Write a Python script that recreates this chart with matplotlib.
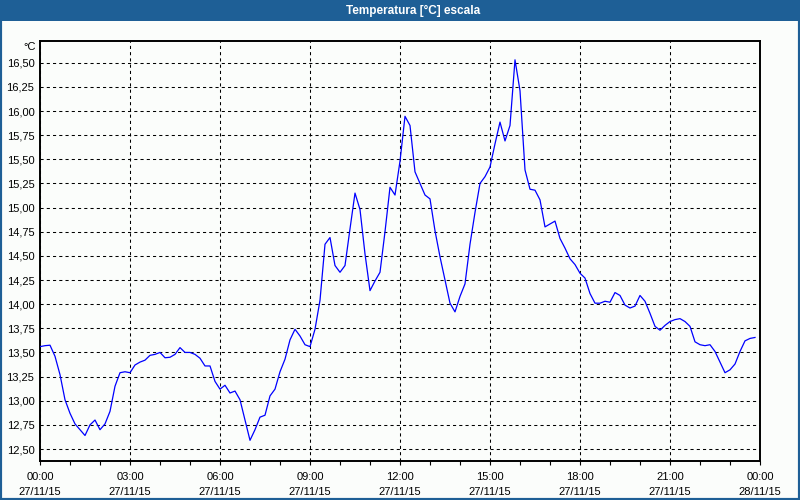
import matplotlib
matplotlib.use('Agg')
import matplotlib.pyplot as plt
from matplotlib.patches import Rectangle
from matplotlib.ticker import FixedLocator, MultipleLocator

# temperature log, one reading every 10 minutes from 27/11/15 00:00
step_min = 10
temps = [
    13.56, 13.57, 13.575, 13.46, 13.27, 13.01, 12.87, 12.76, 12.70, 12.64,
    12.75, 12.80, 12.70, 12.76, 12.89, 13.15, 13.29, 13.30, 13.29, 13.37,
    13.40, 13.42, 13.47, 13.48, 13.50, 13.445, 13.45, 13.48, 13.55, 13.50,
    13.50, 13.48, 13.44, 13.36, 13.36, 13.20, 13.12, 13.16, 13.08, 13.10,
    13.01, 12.80, 12.59, 12.70, 12.83, 12.85, 13.05, 13.12, 13.30, 13.43,
    13.63, 13.74, 13.67, 13.58, 13.56, 13.74, 14.04, 14.62, 14.69, 14.40,
    14.33, 14.40, 14.78, 15.15, 14.98, 14.52, 14.14, 14.24, 14.33, 14.75,
    15.21, 15.13, 15.48, 15.945, 15.85, 15.37, 15.25, 15.13, 15.09, 14.76,
    14.49, 14.25, 14.01, 13.92, 14.08, 14.21, 14.62, 14.95, 15.25, 15.32,
    15.42, 15.66, 15.885, 15.69, 15.85, 16.53, 16.21, 15.39, 15.19, 15.18,
    15.08, 14.80, 14.83, 14.86, 14.68, 14.58, 14.47, 14.41, 14.32, 14.27,
    14.11, 14.01, 14.01, 14.03, 14.02, 14.12, 14.09, 13.99, 13.96, 13.98,
    14.09, 14.03, 13.905, 13.77, 13.73, 13.78, 13.82, 13.84, 13.85, 13.82,
    13.77, 13.61, 13.58, 13.57, 13.58, 13.51, 13.40, 13.29, 13.32, 13.38,
    13.51, 13.62, 13.645, 13.655,
]
hours = [i * step_min / 60 for i in range(len(temps))]

y_ticks = [12.50 + 0.25 * i for i in range(17)]
x_ticks = [0, 3, 6, 9, 12, 15, 18, 21, 24]
x_labels = ['00:00\n27/11/15', '03:00\n27/11/15', '06:00\n27/11/15',
            '09:00\n27/11/15', '12:00\n27/11/15', '15:00\n27/11/15',
            '18:00\n27/11/15', '21:00\n27/11/15', '00:00\n28/11/15']

title = 'Temperatura [°C] escala'
unit = '°C'

bar_col = '#1e5f96'
bg_col = '#fbfdfb'

plt.rcParams['font.family'] = ['Liberation Sans', 'DejaVu Sans']

fig = plt.figure(figsize=(8, 5), dpi=100, facecolor=bg_col)

# window frame and title bar
fig.patches.append(Rectangle((0, 1 - 21 / 500), 1, 21 / 500, transform=fig.transFigure,
                             facecolor=bar_col, edgecolor='none', zorder=0))
fig.patches.append(Rectangle((0, 0), 1, 1, transform=fig.transFigure, fill=False,
                             edgecolor=bar_col, linewidth=3.0, zorder=0))
fig.text(413 / 800, 1 - 10.5 / 500, title, color='white', fontsize=8.5,
         fontweight='bold', ha='center', va='center')

ax = fig.add_axes([40 / 800, 1 - 460.7 / 500, 720 / 800, 420.2 / 500])
ax.set_facecolor(bg_col)
ax.plot(hours, temps, color='#0000ff', linewidth=0.9, zorder=3)

ax.set_xlim(0, 24)
ax.set_ylim(12.379, 16.73)

ax.xaxis.set_major_locator(FixedLocator(x_ticks))
ax.xaxis.set_minor_locator(MultipleLocator(1))
ax.set_xticklabels(x_labels, fontsize=8, linespacing=1.6)
ax.yaxis.set_major_locator(FixedLocator(y_ticks))
ax.set_yticklabels([f'{v:.2f}'.replace('.', ',') for v in y_ticks], fontsize=8)

ax.tick_params(axis='x', which='both', direction='out', length=3, width=0.8, pad=5)
ax.tick_params(axis='y', length=0, pad=4)

ax.grid(True, which='major', color='black', linewidth=0.75, linestyle=(0, (3, 3)))
for s in ax.spines.values():
    s.set_linewidth(1.4)
    s.set_color('black')

ax.text(-4 / 720, 1 - 6 / 420, unit, transform=ax.transAxes, fontsize=8,
        ha='right', va='center')

fig.savefig('out.png', dpi=100, facecolor=bg_col)
